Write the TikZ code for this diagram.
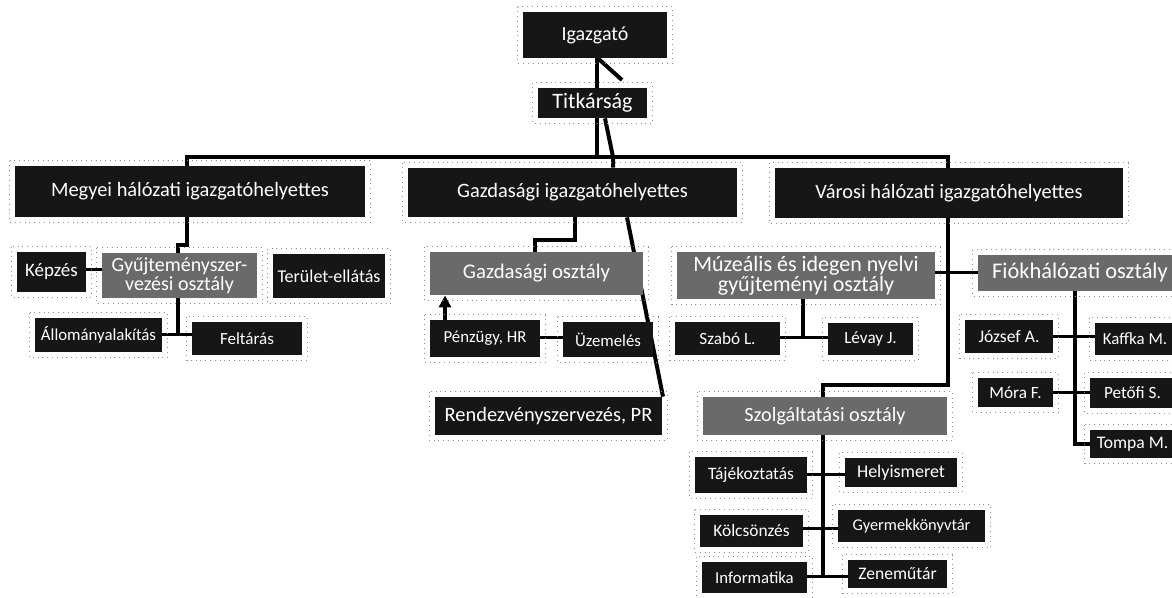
\documentclass[tikz,border=0pt]{standalone}
\usepackage{fontspec}
\setmainfont{Carlito}
\usetikzlibrary{backgrounds,arrows.meta}
\definecolor{dk}{HTML}{161616}
\definecolor{gr}{HTML}{6A6A6A}
\newcommand\fs[1]{\fontsize{#1}{#1}\selectfont}
\begin{document}
\begin{tikzpicture}[x=0.5pt,y=-0.5pt,
  box/.style={fill=dk,text=white,inner sep=0pt,align=center},
  gbox/.style={box,fill=gr},
  conn/.style={draw=black,line width=2pt},
  stub/.style={draw=black,line width=1.5pt},
  halo/.style={draw=black!45,dotted,line width=0.4pt}]
\useasboundingbox (0,0) rectangle (1172,598);
\clip (0,0) rectangle (1172,598);
% top
\node[box,minimum width=72pt,minimum height=23pt,font=\fs{10}] (igaz) at (595,35) {Igazgató};
\node[box,minimum width=54.5pt,minimum height=15pt,font=\fs{11}] (titk) at (592.5,103) {Titkárság};
% deputies
\node[box,minimum width=175pt,minimum height=25.5pt,font=\fs{10.2}] (megy) at (190,191.5) {Megyei hálózati igazgatóhelyettes};
\node[box,minimum width=164.5pt,minimum height=24.5pt,font=\fs{10.2}] (gazd) at (572.5,192.5) {Gazdasági igazgatóhelyettes};
\node[box,minimum width=174pt,minimum height=25pt,font=\fs{10.2}] (varo) at (949,193) {Városi hálózati igazgatóhelyettes};
% Megyei branch
\node[box,minimum width=34.5pt,minimum height=20pt,font=\fs{9.5}] (kepz) at (51.5,272) {Képzés};
\node[gbox,minimum width=77.5pt,minimum height=22.5pt,font=\fontsize{10}{9.5}\selectfont] (gyuj) at (179.5,275.5) {Gyűjteményszer-\\vezési osztály};
\node[box,minimum width=56pt,minimum height=22pt,font=\fs{9}] (teru) at (329,276) {Terület-ellátás};
\node[box,minimum width=63.5pt,minimum height=17pt,font=\fs{8.4}] (allo) at (98.5,335) {Állományalakítás};
\node[box,minimum width=55pt,minimum height=16.5pt,font=\fs{8.5}] (felt) at (247,338.5) {Feltárás};
% Gazdasagi branch
\node[gbox,minimum width=106.5pt,minimum height=21.5pt,font=\fs{10.4}] (gosz) at (536.5,273.5) {Gazdasági osztály};
\node[box,minimum width=55pt,minimum height=18.5pt,font=\fs{8.4}] (penz) at (485,338.5) {Pénzügy, HR};
\node[box,minimum width=45pt,minimum height=17.5pt,font=\fs{8.4}] (uzem) at (608,339.5) {Üzemelés};
\node[box,minimum width=113.5pt,minimum height=19pt,font=\fs{10.2}] (rend) at (548.5,416) {Rendezvényszervezés, PR};
% Varosi branch
\node[gbox,minimum width=129pt,minimum height=23.5pt,font=\fontsize{11}{10}\selectfont] (muze) at (806,275.5) {Múzeális és idegen nyelvi\\gyűjteményi osztály};
\node[gbox,minimum width=102pt,minimum height=18pt,font=\fs{11.2}] (fiok) at (1080,273) {Fiókhálózati osztály};
\node[box,minimum width=52.5pt,minimum height=16.5pt,font=\fs{8.6}] (szab) at (727.5,338.5) {Szabó L.};
\node[box,minimum width=42.5pt,minimum height=16pt,font=\fs{8.6}] (leva) at (870.5,339) {Lévay J.};
\node[box,minimum width=44pt,minimum height=16.5pt,font=\fs{8.8}] (jozs) at (1009,336.5) {József A.};
\node[box,minimum width=40pt,minimum height=16pt,font=\fs{8.4}] (kaff) at (1135,339) {Kaffka M.};
\node[box,minimum width=37.5pt,minimum height=14.5pt,font=\fs{8.6}] (mora) at (1015.5,392.5) {Móra F.};
\node[box,minimum width=42.5pt,minimum height=15pt,font=\fs{8.6}] (peto) at (1132.5,393) {Petőfi S.};
\node[box,minimum width=42.5pt,minimum height=14pt,font=\fs{8.8}] (tomp) at (1132.5,444) {Tompa M.};
\node[gbox,minimum width=122pt,minimum height=19pt,font=\fs{10.1}] (szol) at (825,416) {Szolgáltatási osztály};
\node[box,minimum width=56pt,minimum height=18pt,font=\fs{8.7}] (taje) at (751,475) {Tájékoztatás};
\node[box,minimum width=56pt,minimum height=14.5pt,font=\fs{9}] (hely) at (901,472.5) {Helyismeret};
\node[box,minimum width=51.5pt,minimum height=16pt,font=\fs{8.7}] (kolc) at (751.5,531) {Kölcsönzés};
\node[box,minimum width=73.5pt,minimum height=16pt,font=\fs{8.2}] (gyer) at (911.5,526) {Gyermekkönyvtár};
\node[box,minimum width=52.5pt,minimum height=15.5pt,font=\fs{8.4}] (info) at (754.5,577.5) {Informatika};
\node[box,minimum width=49.5pt,minimum height=14pt,font=\fs{8.8}] (zene) at (897.5,574) {Zeneműtár};
% helper coordinates
\coordinate (busL) at (187,157);
\coordinate (busR) at (948,157);
\coordinate (tv) at (597,157);
\coordinate (tsA) at (605,118);
\coordinate (tsB) at (613,157);
\coordinate (tw) at (622,80);
\coordinate (m1) at (187,245);
\coordinate (m2) at (178,245);
\coordinate (k1) at (0,270);
\coordinate (g1) at (178,335);
\coordinate (c1) at (575,240);
\coordinate (c2) at (535,240);
\coordinate (r1) at (627,0);
\coordinate (r2) at (663,0);
\coordinate (p1) at (445,0);
\coordinate (pu) at (0,338);
\coordinate (v1) at (948,385);
\coordinate (v2) at (823,385);
\coordinate (v3) at (948,273);
\coordinate (mz) at (803,338);
\coordinate (f0) at (1075,0);
\coordinate (f3) at (1075,444);
\coordinate (fj) at (0,337);
\coordinate (fm) at (0,393);
\coordinate (s0) at (823,0);
\coordinate (s3) at (823,577);
\coordinate (sa) at (0,474);
\coordinate (sb) at (0,528);
\coordinate (sc) at (0,576);
% halos
\foreach \n in {igaz,titk,megy,gazd,varo,kepz,gyuj,teru,allo,felt,gosz,penz,uzem,rend,muze,fiok,szab,leva,jozs,kaff,mora,peto,tomp,szol,taje,hely,kolc,gyer,info,zene}
  \draw[halo] ([xshift=-2.5pt,yshift=2.5pt]\n.north west) rectangle ([xshift=2.5pt,yshift=-2.5pt]\n.south east);
\begin{pgfonlayer}{background}
\fill[white] (0,0) rectangle (1172,598);
% top connectors
\draw[conn] (megy.north -| busL) -- (busL) -- (busR) -- (varo.north -| busR);
\draw[conn] (igaz.south -| tv) -- (tv);
\draw[conn] (titk.south -| tsA) -- (tsB) -- (gazd.north -| tsB);
\draw[conn] (tw) -- ([xshift=0.5pt]igaz.south -| tv);
% Megyei
\draw[conn] (megy.south -| m1) -- (m1) -- (m2) -- (gyuj.north -| m2);
\draw[stub] (kepz.east |- k1) -- (gyuj.west |- k1);
\draw[conn] (gyuj.south -| g1) -- (g1);
\draw[stub] (allo.east |- g1) -- (felt.west |- g1);
% Gazdasagi
\draw[conn] (gazd.south -| c1) -- (c1) -- (c2) -- (gosz.north -| c2);
\draw[conn] (gazd.south -| r1) -- (rend.north -| r2);
\draw[conn,-{Triangle[length=6pt,width=6pt]}] (penz.north -| p1) -- (gosz.south -| p1);
\draw[stub] (penz.east |- pu) -- (uzem.west |- pu);
% Varosi
\draw[conn] (varo.south -| v1) -- (v1) -- (v2) -- (szol.north -| v2);
\draw[stub] (muze.east |- v3) -- (fiok.west |- v3);
\draw[conn] (muze.south -| mz) -- (mz);
\draw[stub] (szab.east |- mz) -- (leva.west |- mz);
\draw[conn] (fiok.south -| f0) -- (f3) -- (tomp.west |- f3);
\draw[stub] (jozs.east |- fj) -- (kaff.west |- fj);
\draw[stub] (mora.east |- fm) -- (peto.west |- fm);
\draw[conn] (szol.south -| s0) -- (s3);
\draw[stub] (taje.east |- sa) -- (hely.west |- sa);
\draw[stub] (kolc.east |- sb) -- (gyer.west |- sb);
\draw[stub] (info.east |- sc) -- (zene.west |- sc);
\end{pgfonlayer}
\end{tikzpicture}
\end{document}
